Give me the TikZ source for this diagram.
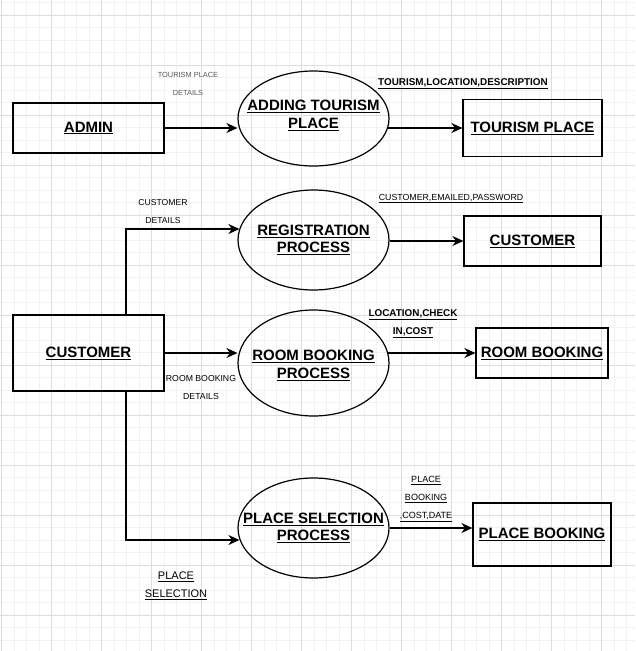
\documentclass[tikz,border=0pt]{standalone}
\usepackage{fontspec}
\setmainfont{Liberation Sans}
\usetikzlibrary{arrows.meta,shapes.geometric}
\newcommand{\undr}[1]{\underline{#1}}

\begin{document}
\begin{tikzpicture}[x=1pt,y=-1pt]
\useasboundingbox (0,0) rectangle (635,651);
\fill[white] (0,0) rectangle (635,651);

%background grid
\foreach \gx in {1.7,14.2,...,635} {\draw[gray!10,line width=0.8pt] (\gx,0) -- (\gx,651);}
\foreach \gy in {2.5,15,...,651} {\draw[gray!10,line width=0.8pt] (0,\gy) -- (635,\gy);}
\foreach \gx in {1.7,51.7,...,635} {\draw[gray!27,line width=0.8pt] (\gx,0) -- (\gx,651);}
\foreach \gy in {15,65,...,651} {\draw[gray!27,line width=0.8pt] (0,\gy) -- (635,\gy);}

\tikzstyle{entity}=[draw,line width=1.2pt,inner sep=0pt,font=\fontsize{15pt}{17.5pt}\selectfont\bfseries]
\tikzstyle{process}=[draw,ellipse,line width=1.2pt,inner sep=0pt,minimum width=151pt]
\tikzstyle{ptext}=[font=\fontsize{15pt}{17.5pt}\selectfont\bfseries,align=center,inner sep=0pt]
\tikzstyle{flow}=[-{Stealth[length=11pt,width=10pt,inset=3.5pt]},line width=1.2pt]
\tikzstyle{lab}=[inner sep=0pt,align=center]

%tourism place
\node[entity,minimum width=151pt,minimum height=50pt] (admin) at (88.5,128) {\undr{ADMIN}};
\node[process,minimum height=95pt,label={[ptext,yshift=3pt]center:{\undr{ADDING TOURISM}\\\undr{PLACE}}}] (addtour) at (313.5,118.5) {};
\node[entity,minimum width=139pt,minimum height=57pt] (tourplace) at (532.5,128) {\undr{TOURISM PLACE}};
\draw[flow] (admin) -- (admin -| addtour.west);
\draw[flow] ([xshift=-2pt]addtour.east |- tourplace) -- (tourplace);
\node[lab,text=black!65,font=\fontsize{7.4pt}{18pt}\selectfont] (tpdet) at (188,84) {TOURISM PLACE\\DETAILS};
\node[lab,font=\fontsize{9.9pt}{18pt}\selectfont\bfseries] (tldet) at (463,83.5) {\undr{TOURISM,LOCATION,DESCRIPTION}};

%registration
\node[entity,minimum width=151pt,minimum height=76pt] (customer) at (88.5,353) {\undr{CUSTOMER}};
\node[process,minimum height=100pt,label={[ptext]center:{\undr{REGISTRATION}\\\undr{PROCESS}}}] (reg) at (313.5,240) {};
\node[entity,minimum width=137pt,minimum height=50pt] (custdb) at (532.5,241) {\undr{CUSTOMER}};
\draw[flow] ([xshift=37.5pt]customer.north) |- ([xshift=2pt,yshift=11pt]reg.west);
\draw[flow] (reg.east |- custdb) -- (custdb);
\node[lab,font=\fontsize{8.6pt}{18pt}\selectfont] (cdet) at (163,212) {CUSTOMER\\DETAILS};
\node[lab,font=\fontsize{8.8pt}{18pt}\selectfont] (cepdet) at (451,198.5) {\undr{CUSTOMER,EMAILED,PASSWORD}};

%room booking
\node[process,minimum height=106pt,label={[ptext,yshift=-2.5pt]center:{\undr{ROOM BOOKING}\\\undr{PROCESS}}}] (roomproc) at (313.5,363) {};
\node[entity,minimum width=132pt,minimum height=50pt] (roombk) at (542,353) {\undr{ROOM BOOKING}};
\draw[flow] (customer) -- (customer -| roomproc.west);
\draw[flow] ([xshift=-2pt]roomproc.east |- roombk) -- (roombk);
\node[lab,font=\fontsize{8.7pt}{18pt}\selectfont] (rbdet) at (201,387) {ROOM BOOKING\\DETAILS};
\node[lab,font=\fontsize{9.9pt}{18pt}\selectfont\bfseries] (lcdet) at (413,324) {\undr{LOCATION,CHECK}\\\undr{IN,COST}};

%place selection
\node[process,minimum height=100pt,label={[ptext]center:{\undr{PLACE SELECTION}\\\undr{PROCESS}}}] (placesel) at (313.5,528) {};
\node[entity,minimum width=138pt,minimum height=63pt] (placebk) at (542,534.5) {\undr{PLACE BOOKING}};
\draw[flow] ([xshift=37.5pt]customer.south) |- ([xshift=2pt,yshift=-12pt]placesel.west);
\draw[flow] (placesel.east) -- (placesel.east -| placebk.west);
\node[lab,font=\fontsize{9pt}{18pt}\selectfont] (pbdet) at (426,499) {\undr{PLACE}\\\undr{BOOKING}\\\undr{,COST,DATE}};
\node[lab,font=\fontsize{11pt}{18pt}\selectfont] (psdet) at (176,586) {\undr{PLACE}\\\undr{SELECTION}};

\end{tikzpicture}
\end{document}
